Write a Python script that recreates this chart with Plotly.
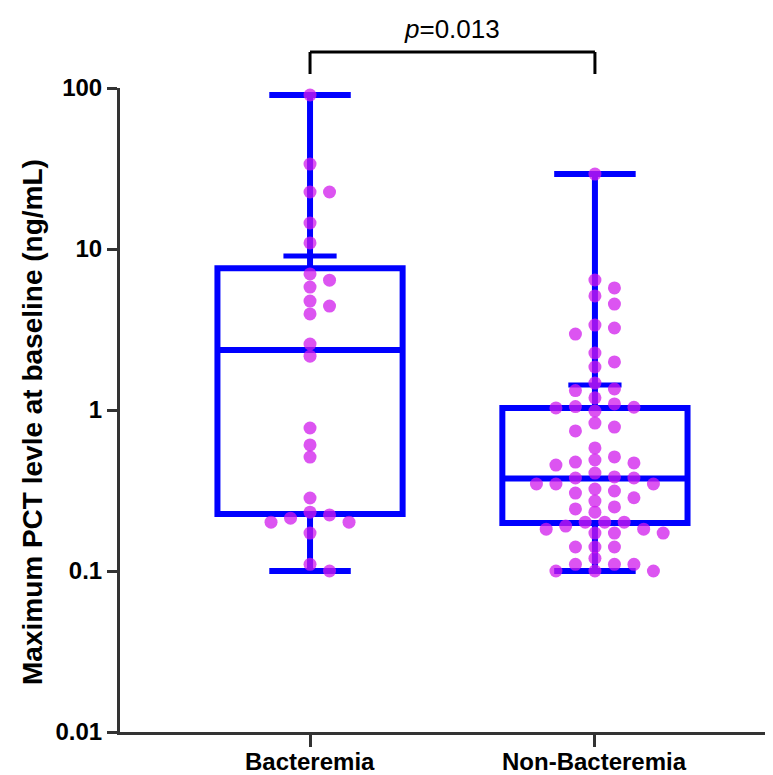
import numpy as np
import plotly.graph_objects as go

# ---------------- data ----------------
categories = ["Bacteremia", "Non-Bacteremia"]

bacteremia_values = [
    90.5, 33.7, 22.6, 22.6, 14.5, 10.9, 7.0, 6.4, 5.8, 4.75, 4.42, 3.95,
    2.57, 2.16, 0.773, 0.607, 0.51, 0.284, 0.232, 0.223, 0.213, 0.201,
    0.201, 0.172, 0.110, 0.100,
]

non_bacteremia_values = [
    29.2, 6.42, 5.73, 5.11, 4.55, 3.37, 3.23, 2.96, 2.26, 1.99, 1.85, 1.47,
    1.35, 1.32, 1.19, 1.09, 1.05, 1.04, 1.03, 0.986, 0.83, 0.783, 0.741,
    0.581, 0.511, 0.489, 0.475, 0.469, 0.455, 0.406, 0.384, 0.378, 0.378,
    0.347, 0.347, 0.347, 0.323, 0.314, 0.305, 0.285, 0.272, 0.25, 0.243,
    0.232, 0.201, 0.201, 0.201, 0.19, 0.182, 0.182, 0.172, 0.172, 0.172,
    0.141, 0.141, 0.141, 0.12, 0.110, 0.110, 0.110, 0.100, 0.100, 0.100,
]

# box statistics (min, q1, median, q3, max)
box_min = [0.100, 0.100]
box_q1 = [0.226, 0.199]
box_median = [2.36, 0.375]
box_q3 = [7.6, 1.03]
box_max = [90.5, 29.2]

y_tick_values = [0.01, 0.1, 1, 10, 100]
y_tick_labels = ["0.01", "0.1", "1", "10", "100"]

p_value_text = "<i>p</i>=0.013"
y_title = "Maximum PCT levle at baseline (ng/mL)"

# ---------------- layout constants ----------------
# the page body has an 8px margin, so the figure is drawn 8px in from the corner
W, H = 765, 767
M_L, M_R, M_T, M_B = 112, 0, 80, 43
X_RANGE = [-0.667, 1.625]
Y_RANGE = [-2, 2]
BLUE = "#0000FF"
AXIS = "#333333"
FONT = "Liberation Sans, Arial, sans-serif"
PT_COLOR = "rgba(208, 24, 236, 0.74)"

plot_w = W - M_L - M_R
plot_h = H - M_T - M_B
px_per_x = plot_w / (X_RANGE[1] - X_RANGE[0])
px_per_dec = plot_h / (Y_RANGE[1] - Y_RANGE[0])


def beeswarm(values, step_px=9.75, rx=19.0, ry=11.0):
    """Greedy swarm layout: returns x offsets (in axis units)."""
    ys = np.log10(np.asarray(values, dtype=float)) * px_per_dec
    order = np.argsort(-ys, kind="stable")
    placed = []
    offs = np.zeros(len(values))
    cands = [0.0]
    for k in range(1, 30):
        cands += [k * step_px, -k * step_px]
    for i in order:
        y = ys[i]
        for c in cands:
            ok = True
            for (px, py) in placed:
                if ((c - px) / rx) ** 2 + ((y - py) / ry) ** 2 < 1.0:
                    ok = False
                    break
            if ok:
                placed.append((c, y))
                offs[i] = c / px_per_x
                break
    return offs


fig = go.Figure()

groups = [bacteremia_values, non_bacteremia_values]

# boxes
for i, cat in enumerate(categories):
    fig.add_trace(go.Box(
        x=[i], q1=[box_q1[i]], median=[box_median[i]], q3=[box_q3[i]],
        lowerfence=[box_min[i]], upperfence=[box_max[i]],
        width=0.65, whiskerwidth=0.44,
        line=dict(color=BLUE, width=6),
        fillcolor="rgba(0,0,0,0)",
        boxpoints=False, hoverinfo="skip", showlegend=False,
    ))

# means
for i, vals in enumerate(groups):
    fig.add_trace(go.Scatter(
        x=[i], y=[float(np.mean(vals))], mode="markers",
        marker=dict(symbol="line-ew", size=38,
                    line=dict(color=BLUE, width=5)),
        showlegend=False, hoverinfo="skip", cliponaxis=False,
    ))

# points
for i, vals in enumerate(groups):
    offs = beeswarm(vals)
    fig.add_trace(go.Scatter(
        x=i + offs, y=vals, mode="markers",
        marker=dict(size=13, color=PT_COLOR, line=dict(width=0)),
        showlegend=False, cliponaxis=False,
    ))

# significance bracket
y_bar = 1 + 36 / plot_h
y_end = 1 + 14 / plot_h
fig.add_shape(type="line", xref="x", yref="paper", x0=0, x1=1,
              y0=y_bar, y1=y_bar, line=dict(color="black", width=3))
for xi in (0, 1):
    fig.add_shape(type="line", xref="x", yref="paper", x0=xi, x1=xi,
                  y0=y_end, y1=y_bar, line=dict(color="black", width=3))
fig.add_annotation(text=p_value_text, xref="x", yref="paper", x=0.5,
                   y=1 + 59 / plot_h, yanchor="middle", showarrow=False,
                   font=dict(family=FONT, size=26, color="black"))

# y title
fig.add_annotation(text=y_title, xref="paper", yref="paper", x=0, xshift=-87,
                   xanchor="center", y=(732 - 422) / plot_h, yanchor="middle",
                   textangle=-90, showarrow=False,
                   font=dict(family=FONT, size=28, color="black", weight="bold"))

# category labels
for i, cat in enumerate(categories):
    fig.add_annotation(text=cat, xref="x", yref="paper", x=i, y=0,
                       yanchor="middle", yshift=-29, showarrow=False,
                       font=dict(family=FONT, size=24, color="black",
                                 weight="bold"))

fig.update_layout(
    width=W, height=H,
    margin=dict(l=M_L, r=M_R, t=M_T, b=M_B, autoexpand=False),
    paper_bgcolor="white", plot_bgcolor="white",
    xaxis=dict(range=X_RANGE, tickvals=[0, 1], showticklabels=False,
               showline=True, linewidth=3, linecolor=AXIS,
               ticks="outside", ticklen=12, tickwidth=3, tickcolor=AXIS,
               showgrid=False, zeroline=False),
    yaxis=dict(type="log", range=Y_RANGE, tickvals=y_tick_values,
               ticktext=y_tick_labels,
               showline=True, linewidth=3, linecolor=AXIS,
               ticks="outside", ticklen=10, tickwidth=3, tickcolor=AXIS,
               showgrid=False, zeroline=False,
               tickfont=dict(family=FONT, size=24, color="black", weight="bold")),
)

fig.write_html("out.html")
